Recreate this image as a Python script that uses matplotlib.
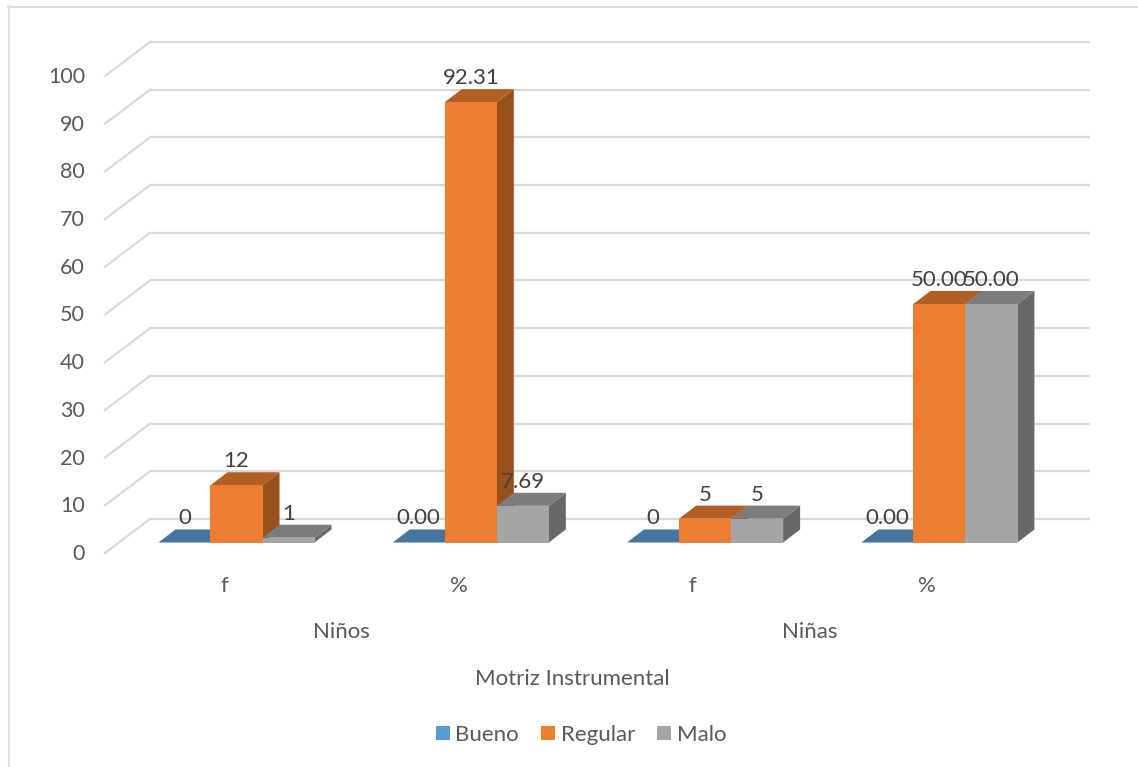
import matplotlib
matplotlib.use("Agg")
import matplotlib.pyplot as plt
from matplotlib.lines import Line2D
from matplotlib.patches import Patch, Polygon, Rectangle

series = ["Bueno", "Regular", "Malo"]
groups = ["f", "%", "f", "%"]
parents = ["Niños", "Niñas"]
bueno = [0, 0.00, 0, 0.00]
regular = [12, 92.31, 5, 50.00]
malo = [1, 7.69, 5, 50.00]
labels_bueno = ["0", "0.00", "0", "0.00"]
labels_regular = ["12", "92.31", "5", "50.00"]
labels_malo = ["1", "7.69", "5", "50.00"]
yticks = list(range(0, 101, 10))

W, H = 1138, 767
FRONT = {"Bueno": "#5B9BD5", "Regular": "#ED7D31", "Malo": "#A5A5A5"}
TOP = {"Bueno": "#44749F", "Regular": "#B35E24", "Malo": "#7C7C7C"}
SIDE = {"Bueno": "#34587A", "Regular": "#98501C", "Malo": "#686868"}
GRID = "#D9D9D9"
TEXT = "#595959"
LABEL = "#404040"

plt.rcParams["font.family"] = ["Lato", "DejaVu Sans"]
plt.rcParams["font.size"] = 16

fig = plt.figure(figsize=(W / 100, H / 100), dpi=100)

# axes box is the plane of the bar fronts: y 0-100, four category slots
left, right, bottom, top = 119.35, 1056.55, 542.5, 65.5
ax = fig.add_axes([left / W, 1 - bottom / H, (right - left) / W, (bottom - top) / H])
ax.set_xlim(-0.5, 3.5)
ax.set_ylim(0, 100)
ax.axis("off")

# oblique projection offsets, in data units
bar_w = 0.222
depth_x, depth_y = 0.0726, 2.73
back_x, back_y = 0.131, 4.93
wall_x, wall_y = -0.0612, -2.2

# back wall gridlines and the diagonals running forward on the side wall
for t in yticks:
    ax.plot([-0.5 + back_x, 3.513 + back_x], [t + back_y] * 2, color=GRID, lw=1.6,
            clip_on=False, zorder=1, solid_capstyle="butt")
    ax.plot([-0.5 + wall_x, -0.5 + back_x], [t + wall_y, t + back_y], color=GRID, lw=1.6,
            clip_on=False, zorder=1)
    ax.annotate(str(t), (-0.5 + wall_x, t + wall_y), xytext=(-20, -1), textcoords="offset pixels",
                ha="right", va="center", color=TEXT, fontsize=15.5, annotation_clip=False)

# bars go left to right so each one sits over its neighbour's side face
z = 2
for g in range(len(groups)):
    for s, (name, values) in enumerate(zip(series, [bueno, regular, malo])):
        x0 = g + (s - 1.5) * bar_w
        x1 = x0 + bar_w
        y = values[g]
        ax.add_patch(Polygon([(x1, 0), (x1 + depth_x, depth_y), (x1 + depth_x, y + depth_y), (x1, y)],
                             facecolor=SIDE[name], edgecolor="none", zorder=z, clip_on=False))
        ax.add_patch(Polygon([(x0, y), (x1, y), (x1 + depth_x, y + depth_y), (x0 + depth_x, y + depth_y)],
                             facecolor=TOP[name], edgecolor="none", zorder=z, clip_on=False))
        ax.add_patch(Rectangle((x0, 0), bar_w, y, facecolor=FRONT[name], edgecolor="none",
                               zorder=z, clip_on=False))
        z += 1

for g in range(len(groups)):
    columns = zip([bueno, regular, malo], [labels_bueno, labels_regular, labels_malo])
    for s, (values, texts) in enumerate(columns):
        ax.annotate(texts[g], (g + (s - 1) * bar_w, values[g] + depth_y), xytext=(0, 11),
                    textcoords="offset pixels", ha="center", va="center", color=LABEL,
                    zorder=50, annotation_clip=False)

# category labels sit under the front edge of the floor
for g, name in enumerate(groups):
    ax.annotate(name, (g + wall_x, 0), xytext=(2, -44), textcoords="offset pixels",
                ha="center", va="center", color=TEXT, annotation_clip=False)
for p, name in enumerate(parents):
    ax.annotate(name, (2 * p + 0.5 + wall_x, 0), xytext=(2, -90), textcoords="offset pixels",
                ha="center", va="center", color=TEXT, annotation_clip=False)

fig.text(572.5 / W, 1 - 679 / H, "Motriz Instrumental", ha="center", va="center", color=TEXT)

handles = [Patch(facecolor=FRONT[name], edgecolor="none") for name in series]
fig.legend(handles, series, loc="center", bbox_to_anchor=(581 / W, 1 - 735 / H), ncols=3,
           frameon=False, labelcolor=TEXT, handlelength=0.63, handleheight=0.63,
           handletextpad=0.25, columnspacing=1.0, borderpad=0, borderaxespad=0)

# chart area outline: only the top and left edges fall inside the canvas
fig.add_artist(Line2D([8 / W, 1], [1 - 6.5 / H] * 2, color="#D4D4D4", lw=1.2))
fig.add_artist(Line2D([9 / W] * 2, [0, 1 - 6 / H], color="#E2E2E2", lw=1.6))

fig.savefig("out.png", dpi=100)
